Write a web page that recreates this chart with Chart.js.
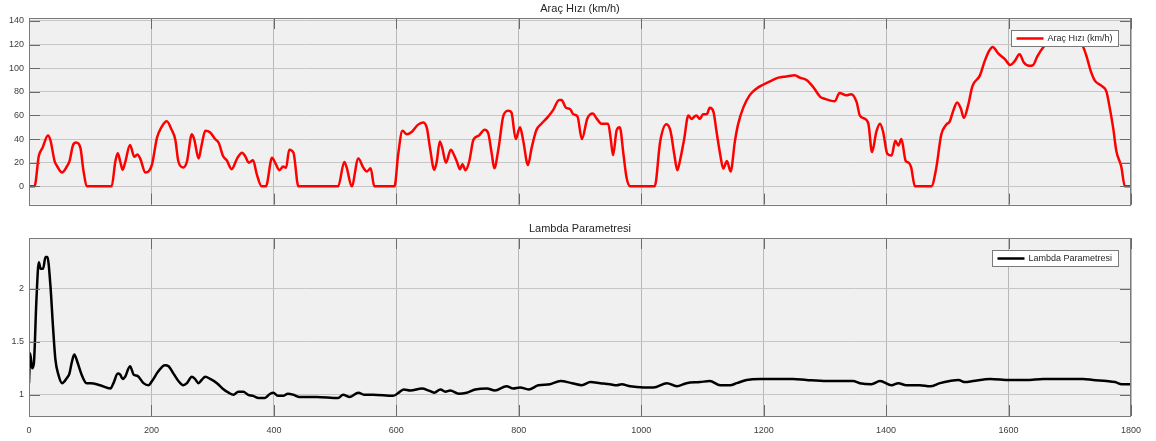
<!DOCTYPE html>
<html>
<head>
<meta charset="utf-8">
<script src="https://cdn.jsdelivr.net/npm/chart.js@4.4.0/dist/chart.umd.min.js"></script>
<style>
    html, body { margin: 0; padding: 0; background: #ffffff; }
    #wrap { position: relative; width: 1156px; height: 441px; }
    canvas { position: absolute; left: 0; }
    #speedCanvas { top: 0; }
    #lambdaCanvas { top: 215px; }
</style>
</head>
<body>
<div id="wrap">
    <canvas id="speedCanvas" width="1156" height="215"></canvas>
    <canvas id="lambdaCanvas" width="1156" height="226"></canvas>
</div>
<script>
// Time axis (s) and vehicle speed (km/h)
const speedTime = [
    0, 9, 16, 22, 31, 35, 42, 46, 54, 62,
    66, 72, 77, 84, 89, 95, 135, 141, 145, 149,
    153, 157, 165, 172, 177, 182, 190, 196, 201, 209,
    217, 225, 233, 239, 244, 252, 258, 266, 270, 277,
    282, 288, 296, 304, 310, 317, 323, 331, 340, 348,
    353, 359, 366, 372, 380, 387, 397, 402, 409, 415,
    420, 425, 432, 440, 505, 515, 519, 527, 538, 546,
    552, 558, 564, 597, 603, 610, 617, 625, 635, 644,
    650, 655, 662, 666, 671, 675, 681, 689, 695, 699,
    704, 708, 713, 719, 726, 735, 744, 750, 756, 760,
    767, 775, 783, 788, 795, 802, 807, 815, 821, 829,
    837, 848, 856, 866, 870, 877, 884, 889, 896, 903,
    912, 921, 927, 935, 946, 950, 954, 960, 965, 971,
    976, 982, 1022, 1031, 1041, 1048, 1054, 1059, 1063, 1070,
    1077, 1082, 1090, 1096, 1101, 1107, 1112, 1118, 1123, 1129,
    1134, 1140, 1146, 1153, 1158, 1167, 1177, 1188, 1199, 1213,
    1224, 1237, 1251, 1259, 1270, 1281, 1292, 1300, 1316, 1324,
    1335, 1343, 1352, 1357, 1364, 1371, 1377, 1384, 1390, 1395,
    1402, 1409, 1415, 1420, 1425, 1432, 1437, 1441, 1447, 1474,
    1482, 1490, 1498, 1504, 1510, 1516, 1522, 1527, 1534, 1541,
    1553, 1561, 1568, 1574, 1583, 1594, 1603, 1610, 1618, 1625,
    1634, 1640, 1647, 1657, 1670, 1690, 1705, 1721, 1728, 1734,
    1741, 1752, 1760, 1764, 1771, 1776, 1784, 1790, 1800
];
const speedKmh = [
    0, 0, 25.6, 32.5, 43, 39, 21, 17, 11.7, 17,
    21, 35, 37, 32.5, 13, 0, 0, 21, 28, 21,
    14, 20, 35, 25, 27, 23, 11.7, 13, 18.6, 41,
    50.6, 55, 47.8, 39.5, 21, 16, 21, 44, 39.5, 23.6,
    35, 47, 45.5, 40, 36.7, 25.6, 22, 14.5, 23.6, 28.4,
    25.6, 20, 22, 10.3, 0, 0, 24.2, 20, 13.6, 16.7,
    15.8, 31, 28.4, 0, 0, 20.6, 15.8, 0, 23.6, 15.8,
    12.5, 15.3, 0, 0, 27, 47, 44, 46, 52, 54,
    49, 32.5, 14, 21, 38, 32.5, 20, 31, 25.6, 20.8,
    14.5, 18.6, 13.6, 21, 39.5, 43, 47.8, 45, 27, 15.3,
    32.5, 60, 64, 62.5, 40, 50, 39.5, 18, 32.5, 47.8,
    53, 59, 64.5, 73, 73, 66.5, 65.3, 61, 59, 40,
    57.5, 61.7, 57.5, 53, 53, 41, 26.4, 47.8, 50, 27,
    7.5, 0, 0, 38, 52.5, 46.4, 27, 13.6, 21, 39.5,
    60, 57, 60, 57, 61, 61, 66.5, 63, 46.4, 27,
    15, 21.4, 12.5, 38, 52, 67, 77, 82.6, 86, 89.5,
    92, 93, 94, 92, 90, 84, 76, 74, 72, 79,
    77, 78, 71, 60, 57.5, 53, 29, 46, 53, 46.4,
    27.5, 26, 38.6, 34.5, 40, 21.4, 20, 15.8, 0, 0,
    15.8, 43.6, 52, 55, 64.5, 71, 66, 58, 68.7, 84.8,
    93.7, 106, 114.5, 118, 112.6, 107.6, 102.6, 106, 111.8, 104.8,
    102, 102.6, 110, 118, 124, 127, 126, 119, 109, 98,
    89.5, 85, 80, 70, 49, 30, 17, 0, 0
];

// Time axis (s) and lambda parameter
const lambdaTime = [
    0, 2, 5, 8, 12, 16, 19, 23, 27, 30,
    35, 39, 43, 48, 54, 62, 66, 70, 74, 79,
    86, 94, 101, 116, 133, 138, 145, 149, 153, 157,
    165, 171, 177, 187, 195, 201, 211, 222, 228, 236,
    244, 252, 258, 266, 271, 277, 282, 288, 296, 307,
    316, 326, 334, 342, 350, 358, 366, 375, 385, 394,
    399, 407, 415, 423, 432, 442, 470, 505, 513, 524,
    538, 548, 562, 595, 606, 612, 623, 642, 653, 662,
    672, 680, 688, 702, 715, 729, 748, 761, 780, 791,
    802, 816, 832, 851, 868, 887, 903, 917, 933, 949,
    960, 968, 982, 1004, 1020, 1042, 1058, 1074, 1096, 1112,
    1129, 1145, 1156, 1172, 1194, 1227, 1248, 1270, 1303, 1330,
    1346, 1357, 1376, 1390, 1409, 1420, 1433, 1455, 1472, 1488,
    1504, 1518, 1529, 1542, 1570, 1602, 1629, 1657, 1684, 1722,
    1738, 1760, 1774, 1785, 1800
];
const lambdaValues = [
    1.11, 1.39, 1.25, 1.30, 1.88, 2.25, 2.19, 2.19, 2.30, 2.30,
    2.03, 1.66, 1.34, 1.19, 1.11, 1.16, 1.20, 1.31, 1.38, 1.31,
    1.19, 1.11, 1.11, 1.09, 1.06, 1.11, 1.20, 1.19, 1.15, 1.17,
    1.27, 1.19, 1.18, 1.11, 1.09, 1.13, 1.22, 1.28, 1.27, 1.20,
    1.13, 1.09, 1.11, 1.17, 1.15, 1.11, 1.14, 1.17, 1.15, 1.11,
    1.06, 1.02, 1.00, 1.03, 1.03, 1.00, 0.99, 0.97, 0.97, 1.01,
    1.02, 0.99, 0.99, 1.01, 1.00, 0.98, 0.98, 0.97, 1.00, 0.98,
    1.02, 1.00, 1.00, 0.99, 1.03, 1.05, 1.04, 1.06, 1.04, 1.02,
    1.05, 1.03, 1.04, 1.01, 1.02, 1.05, 1.06, 1.04, 1.08, 1.06,
    1.07, 1.05, 1.09, 1.10, 1.13, 1.11, 1.09, 1.12, 1.11, 1.10,
    1.09, 1.10, 1.08, 1.07, 1.07, 1.11, 1.08, 1.11, 1.12, 1.13,
    1.09, 1.09, 1.11, 1.14, 1.15, 1.15, 1.15, 1.14, 1.13, 1.13,
    1.13, 1.11, 1.10, 1.13, 1.09, 1.11, 1.09, 1.09, 1.08, 1.11,
    1.13, 1.14, 1.12, 1.13, 1.15, 1.14, 1.14, 1.15, 1.15, 1.15,
    1.14, 1.13, 1.12, 1.10, 1.10
];

// Tick labels
const timeTicks = [0, 200, 400, 600, 800, 1000, 1200, 1400, 1600, 1800];
const speedTicks = [0, 20, 40, 60, 80, 100, 120, 140];
const lambdaTicks = [1, 1.5, 2];

const FONT = '"Liberation Sans", Arial, sans-serif';
const TICK_LEN = 11;

// MATLAB-like axes: grey plot area, full box, inward ticks, title, legend inside
const matlabAxes = {
    id: 'matlabAxes',
    beforeDraw(chart) {
        const a = chart.chartArea;
        const ctx = chart.ctx;
        ctx.save();
        ctx.fillStyle = '#f0f0f0';
        ctx.fillRect(a.left, a.top, a.right - a.left, a.bottom - a.top);
        ctx.restore();
    },
    afterDraw(chart, args, opts) {
        const a = chart.chartArea;
        const ctx = chart.ctx;
        const xs = chart.scales.x;
        const ys = chart.scales.y;
        ctx.save();

        // inward tick marks
        ctx.strokeStyle = '#6a6a6a';
        ctx.lineWidth = 1;
        ctx.beginPath();
        xs.ticks.forEach(t => {
            const px = Math.round(xs.getPixelForValue(t.value)) + 0.5;
            ctx.moveTo(px, a.bottom); ctx.lineTo(px, a.bottom - TICK_LEN);
            ctx.moveTo(px, a.top); ctx.lineTo(px, a.top + TICK_LEN);
        });
        ys.ticks.forEach(t => {
            const py = Math.round(ys.getPixelForValue(t.value)) + 0.5;
            ctx.moveTo(a.left, py); ctx.lineTo(a.left + TICK_LEN, py);
            ctx.moveTo(a.right, py); ctx.lineTo(a.right - TICK_LEN, py);
        });
        ctx.stroke();

        // box
        ctx.strokeStyle = '#7a7a7a';
        ctx.strokeRect(Math.round(a.left) + 0.5, Math.round(a.top) + 0.5,
            Math.round(a.right - a.left) - 1, Math.round(a.bottom - a.top));

        // title
        ctx.fillStyle = '#262626';
        ctx.font = '11px ' + FONT;
        ctx.textAlign = 'center';
        ctx.textBaseline = 'middle';
        ctx.fillText(opts.title, (a.left + a.right) / 2, a.top - 9.5);

        // legend
        ctx.font = '9px ' + FONT;
        const textW = ctx.measureText(opts.label).width;
        const w = Math.round(textW + 42);
        const h = 16;
        const bx = Math.round(a.right - 13 - w) + 0.5;
        const by = Math.round(a.top + 12) + 0.5;
        ctx.fillStyle = '#ffffff';
        ctx.fillRect(bx, by, w, h);
        ctx.strokeStyle = '#7a7a7a';
        ctx.strokeRect(bx, by, w, h);
        ctx.strokeStyle = opts.color;
        ctx.lineWidth = 2.5;
        ctx.beginPath();
        ctx.moveTo(bx + 5, by + h / 2);
        ctx.lineTo(bx + 32, by + h / 2);
        ctx.stroke();
        ctx.fillStyle = '#262626';
        ctx.textAlign = 'left';
        ctx.fillText(opts.label, bx + 36, by + h / 2 + 0.5);

        ctx.restore();
    }
};

function makeChart(canvasId, cfg) {
    const points = cfg.xs.map((x, i) => ({ x: x, y: cfg.ys[i] }));
    return new Chart(document.getElementById(canvasId), {
        type: 'line',
        data: {
            datasets: [{
                data: points,
                borderColor: cfg.color,
                borderWidth: 2.5,
                pointRadius: 0,
                cubicInterpolationMode: 'monotone',
                fill: false
            }]
        },
        plugins: [matlabAxes],
        options: {
            responsive: false,
            animation: false,
            devicePixelRatio: 1,
            layout: { padding: { top: cfg.padTop, right: 25, left: 0, bottom: 0 } },
            plugins: {
                legend: { display: false },
                tooltip: { enabled: false },
                matlabAxes: { title: cfg.title, label: cfg.title, color: cfg.color }
            },
            scales: {
                x: {
                    type: 'linear',
                    min: 0,
                    max: 1800,
                    afterBuildTicks: s => { s.ticks = timeTicks.map(v => ({ value: v })); },
                    afterFit: s => { s.height = cfg.xHeight; },
                    grid: { color: '#b8b8b8', drawTicks: false },
                    border: { display: false },
                    ticks: {
                        display: cfg.showX,
                        padding: 9,
                        color: '#404040',
                        font: { family: FONT, size: 9 },
                        maxRotation: 0,
                        autoSkip: false,
                        callback: v => String(v)
                    }
                },
                y: {
                    type: 'linear',
                    min: cfg.yMin,
                    max: cfg.yMax,
                    afterBuildTicks: s => { s.ticks = cfg.yTicks.map(v => ({ value: v })); },
                    afterFit: s => { s.width = 29; },
                    grid: { color: '#c6c6c6', drawTicks: false },
                    border: { display: false },
                    ticks: {
                        padding: 5,
                        color: '#404040',
                        font: { family: FONT, size: 9 },
                        callback: v => String(v)
                    }
                }
            }
        }
    });
}

makeChart('speedCanvas', {
    xs: speedTime, ys: speedKmh, color: '#ff0000',
    title: 'Araç Hızı (km/h)',
    yMin: -15.5, yMax: 142.5, yTicks: speedTicks,
    padTop: 18, xHeight: 9, showX: false
});

makeChart('lambdaCanvas', {
    xs: lambdaTime, ys: lambdaValues, color: '#000000',
    title: 'Lambda Parametresi',
    yMin: 0.8, yMax: 2.48, yTicks: lambdaTicks,
    padTop: 23, xHeight: 25, showX: true
});
</script>
</body>
</html>
